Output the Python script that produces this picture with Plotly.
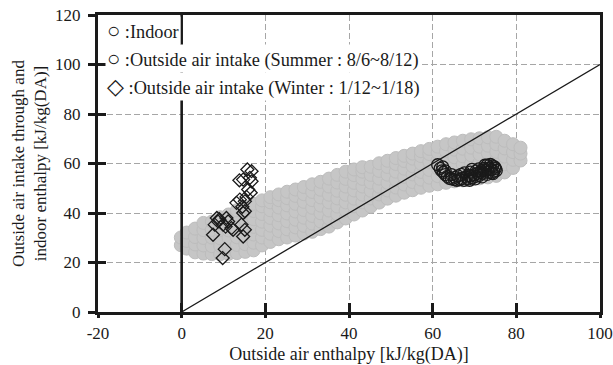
import plotly.graph_objects as go

# ---------------- data ----------------
x_ticks = [-20, 0, 20, 40, 60, 80, 100]
x_tick_text = ["-20", "0", "20", "40", "60", "80", "100"]
y_ticks = [0, 20, 40, 60, 80, 100, 120]

# Indoor enthalpy cloud (grey circles), hand-read as columns: (outside enthalpy, [indoor enthalpy ...])
indoor_cols = [
    (-0.2, [27.0, 30.1]),
    (1.2, [25.6, 28.7, 32.1]),
    (3.2, [24.1, 27.3, 30.3, 33.7]),
    (5.2, [23.6, 26.9, 29.9, 33.1, 36.0]),
    (7.2, [23.4, 26.6, 30.1, 33.2, 36.5]),
    (9.2, [23.3, 26.7, 29.8, 33.1, 36.0, 38.3]),
    (11.2, [23.5, 26.5, 29.9, 33.0, 36.3, 39.4]),
    (13.2, [23.8, 27.1, 30.2, 33.5, 36.6, 39.5, 41.1]),
    (15.2, [24.3, 27.4, 30.7, 33.8, 37.1, 40.0, 42.5]),
    (17.2, [24.9, 28.0, 31.3, 34.4, 37.5, 40.8, 43.7]),
    (19.2, [26.9, 30.1, 33.2, 36.5, 39.6, 42.7, 45.1]),
    (21.2, [28.3, 31.6, 34.9, 38.0, 41.1, 44.3, 46.4]),
    (23.2, [29.4, 32.7, 35.8, 39.1, 42.2, 45.2, 47.5]),
    (25.2, [30.1, 33.4, 36.7, 39.8, 43.1, 46.0, 48.6]),
    (27.2, [30.9, 34.2, 37.3, 40.6, 43.7, 46.9, 49.5]),
    (29.2, [31.7, 34.8, 38.1, 41.2, 44.5, 47.6, 50.5]),
    (31.2, [32.4, 35.7, 38.8, 42.1, 45.2, 48.5, 51.6]),
    (33.2, [33.5, 36.6, 39.9, 43.0, 46.3, 49.4, 52.6]),
    (35.2, [34.5, 37.8, 41.0, 44.3, 47.4, 50.7, 53.9]),
    (37.2, [36.2, 39.5, 42.6, 45.9, 49.0, 52.3, 55.4]),
    (39.2, [37.8, 41.0, 44.3, 47.4, 50.7, 53.8, 56.7]),
    (41.2, [39.4, 42.7, 45.8, 49.1, 52.2, 55.3, 57.6]),
    (43.2, [41.0, 44.3, 47.4, 50.7, 53.8, 56.7, 58.5]),
    (45.2, [42.6, 45.9, 49.0, 52.3, 55.4, 58.7]),
    (47.2, [44.2, 47.5, 50.6, 53.9, 57.0, 60.1]),
    (49.2, [45.8, 49.1, 52.2, 55.5, 58.6, 61.1]),
    (51.2, [47.0, 50.3, 53.4, 56.7, 59.8, 62.2]),
    (53.2, [48.2, 51.5, 54.6, 57.9, 61.0, 63.1]),
    (55.2, [49.2, 52.5, 55.6, 58.9, 62.0, 64.0]),
    (57.2, [50.2, 53.5, 56.6, 59.9, 63.0, 65.0]),
    (59.2, [51.0, 54.3, 57.4, 60.7, 63.8, 65.9]),
    (61.2, [51.6, 54.9, 58.0, 61.3, 64.4, 66.8]),
    (63.2, [52.2, 55.5, 58.6, 61.9, 65.0, 67.8]),
    (65.2, [52.8, 56.1, 59.2, 62.5, 65.6, 68.5]),
    (67.2, [53.2, 56.5, 59.6, 62.9, 66.0, 69.2]),
    (69.2, [53.6, 56.9, 60.0, 63.3, 66.4, 69.8]),
    (71.2, [54.0, 57.3, 60.4, 63.7, 66.8, 70.2]),
    (73.2, [54.4, 57.7, 60.8, 64.1, 67.2, 70.6]),
    (75.2, [55.0, 58.3, 61.4, 64.7, 67.8, 70.8]),
    (77.2, [56.4, 59.7, 62.8, 66.1, 69.2]),
    (79.2, [58.2, 61.5, 64.6, 67.8]),
    (81.0, [61.2, 64.0, 66.4]),
]

# Outside air intake, summer (dark circles)
summer_x = [61.2, 61.8, 62.2, 62.6, 63.0, 63.5, 64.0, 64.5, 65.2, 65.8, 66.5, 67.0,
            67.5, 68.0, 68.5, 69.0, 69.5, 70.0, 70.3, 70.8, 71.2, 71.6, 72.0, 72.3,
            72.7, 73.0, 73.3, 73.6, 74.0, 74.3, 74.6, 75.0, 75.2, 74.8, 66.0, 64.5,
            63.0, 69.0, 71.0, 72.5, 73.8,
            66.8, 67.6, 68.4, 69.4, 70.4, 71.4, 72.2, 73.2, 74.2, 70.2, 71.8, 73.0,
            74.4, 68.8, 65.4, 62.4]
summer_y = [59.5, 58.0, 57.0, 56.4, 55.5, 54.8, 54.0, 53.8, 53.5, 53.2, 53.5, 54.0,
            53.2, 54.5, 53.8, 55.0, 54.2, 55.5, 54.8, 56.0, 55.2, 57.0, 56.0, 58.0,
            57.0, 59.3, 56.5, 58.2, 57.5, 59.0, 56.8, 58.0, 57.2, 58.6, 55.0, 55.5,
            57.0, 56.5, 57.8, 59.3, 59.6,
            55.6, 56.2, 55.2, 57.6, 57.0, 56.4, 57.4, 57.9, 56.2, 53.8, 54.6, 55.6,
            55.9, 53.2, 54.4, 58.6]

# Outside air intake, winter (diamonds)
winter_x = [15.7, 16.7, 16.3, 14.7, 16.7, 15.9, 16.5, 13.9, 15.1, 13.1, 15.1, 14.7,
            8.4, 8.7, 7.9, 10.7, 11.1, 9.9, 11.9, 7.5, 14.3, 15.1, 14.7, 12.3,
            10.3, 9.8, 10.5, 9.0, 15.5, 14.5, 13.8]
winter_y = [57.6, 56.9, 54.2, 53.5, 52.8, 49.5, 48.2, 45.4, 44.7, 44.1, 40.7, 40.0,
            38.0, 36.6, 35.3, 38.0, 36.6, 35.3, 33.9, 31.2, 35.3, 33.2, 30.5, 33.2,
            25.4, 21.8, 34.5, 37.5, 46.5, 42.5, 53.2]

# Reference lines: y = x and the x = 0 line
diag_x = [0, 100]
diag_y = [0, 100]
vline_x = [0, 0]
vline_y = [0, 120]

legend_symbols = ["\u25cb", "\u25cb", "\u25c7"]
legend_labels = [":Indoor",
                 ":Outside air intake (Summer : 8/6~8/12)",
                 ":Outside air intake (Winter : 1/12~1/18)"]

x_title = "Outside air enthalpy [kJ/kg(DA)]"
y_title = "Outside air intake through and<br>indoor enthalpy [kJ/kg(DA)]"

# ---------------- figure ----------------
indoor_x = [x for x, ys in indoor_cols for _ in ys]
indoor_y = [y for _, ys in indoor_cols for y in ys]

FONT = "Liberation Serif"
INK = "#1a1a1a"

fig = go.Figure()
fig.add_trace(go.Scatter(x=indoor_x, y=indoor_y, mode="markers", name="Indoor",
                         marker=dict(symbol="circle", size=13, color="#c6c6c6",
                                     line=dict(color="#bdbdbd", width=1))))
fig.add_trace(go.Scatter(x=summer_x, y=summer_y, mode="markers",
                         name="Outside air intake (Summer)",
                         marker=dict(symbol="circle-open", size=12,
                                     line=dict(color=INK, width=1.3), color=INK)))
fig.add_trace(go.Scatter(x=winter_x, y=winter_y, mode="markers",
                         name="Outside air intake (Winter)",
                         marker=dict(symbol="diamond-open", size=10,
                                     line=dict(color=INK, width=1.3), color=INK)))
fig.add_trace(go.Scatter(x=diag_x, y=diag_y, mode="lines", xaxis="x2", yaxis="y2",
                         line=dict(color=INK, width=1.3)))
fig.add_trace(go.Scatter(x=vline_x, y=vline_y, mode="lines", xaxis="x2", yaxis="y2",
                         line=dict(color=INK, width=2.6)))

grid = dict(showgrid=True, gridcolor="#a6a6a6", gridwidth=1, griddash="6px,3px")

fig.update_layout(
    width=613, height=365,
    margin=dict(l=98, r=13, t=15, b=53),
    paper_bgcolor="white", plot_bgcolor="white",
    showlegend=False,
    font=dict(family=FONT, size=17, color=INK),
    xaxis=dict(range=[-20, 100], tickvals=x_ticks, ticktext=x_tick_text,
               ticks="outside", ticklen=3, automargin=False,
               tickwidth=3, tickcolor=INK, showline=True, linewidth=3, linecolor=INK,
               mirror=True, zeroline=False, ticklabelstandoff=1,
               tickfont=dict(family=FONT, size=17, color=INK),
               title=dict(text=x_title, standoff=7, font=dict(family=FONT, size=18)),
               **grid),
    yaxis=dict(range=[0, 120], tickvals=y_ticks, ticks="outside", ticklen=7,
               automargin=False,
               tickwidth=3, tickcolor=INK, showline=True, linewidth=3, linecolor=INK,
               mirror=True, zeroline=False, ticklabelstandoff=4,
               tickfont=dict(family=FONT, size=17, color=INK),
               title=dict(text=y_title, standoff=5, font=dict(family=FONT, size=17)),
               **grid),
    xaxis2=dict(overlaying="x", anchor="y", range=[-20, 100], tickvals=x_ticks,
                ticks="inside", ticklen=9, tickwidth=3, tickcolor=INK, automargin=False,
                showticklabels=False, showgrid=False, showline=False, zeroline=False),
    yaxis2=dict(overlaying="y", anchor="x", side="left", range=[0, 120], tickvals=y_ticks,
                ticks="inside", ticklen=8, tickwidth=3, tickcolor=INK, automargin=False,
                showticklabels=False, showgrid=False, showline=False, zeroline=False),
)

legend_y = [0.949, 0.852, 0.758]
for sym, label, ly in zip(legend_symbols, legend_labels, legend_y):
    fig.add_annotation(text='<span style="font-size:22px">' + sym + "</span> " + label,
                       xref="paper", yref="paper", x=0.014, y=ly,
                       xanchor="left", yanchor="middle", showarrow=False,
                       bgcolor="white", borderpad=1,
                       font=dict(family=FONT, size=18.3, color=INK))

fig.write_html("out.html")
